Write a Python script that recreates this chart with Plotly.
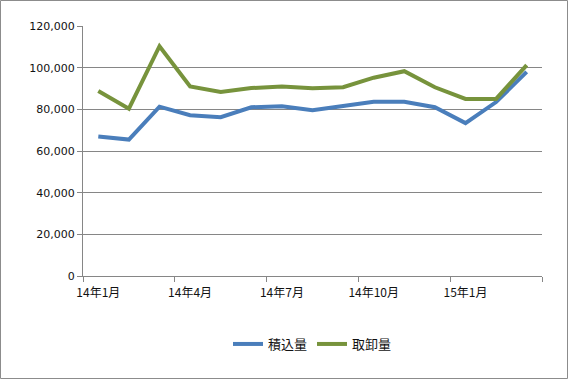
import plotly.graph_objects as go

months = ["14年1月", "14年2月", "14年3月", "14年4月", "14年5月", "14年6月", "14年7月",
          "14年8月", "14年9月", "14年10月", "14年11月", "14年12月", "15年1月", "15年2月", "15年3月"]
loading = [67000, 65500, 81300, 77200, 76200, 81000, 81500, 79600, 81600, 83600, 83600, 81000, 73400, 83500, 98000]
unloading = [88800, 80300, 110300, 91000, 88300, 90200, 91000, 90100, 90600, 95200, 98300, 90600, 85000, 85000, 101200]
tick_labels = ["14年1月", "14年4月", "14年7月", "14年10月", "15年1月"]

xs = list(range(len(months)))
tick_pos = [months.index(t) for t in tick_labels]
boundaries = [p - 0.5 for p in tick_pos] + [len(months) - 0.5]

W, H = 568, 379
L, R, T, B = 83, 26, 26, 103
pw, ph = W - L - R, H - T - B

fig = go.Figure()
fig.add_trace(go.Scatter(x=xs, y=loading, mode="lines", name="積込量",
                         line=dict(color="#4A7EBB", width=4)))
fig.add_trace(go.Scatter(x=xs, y=unloading, mode="lines", name="取卸量",
                         line=dict(color="#77933C", width=4)))
# helper trace so that the boundary-tick axis is drawn
fig.add_trace(go.Scatter(x=[boundaries[0]], y=[None], xaxis="x2", mode="lines",
                         showlegend=False, hoverinfo="skip"))

xr = [-0.5, len(months) - 0.5]
fig.update_layout(
    width=W, height=H,
    margin=dict(l=L, r=R, t=T, b=B, pad=0),
    paper_bgcolor="white", plot_bgcolor="white",
    font=dict(family="DejaVu Sans, Noto Sans CJK JP", size=11, color="#111111"),
    showlegend=True,
    legend=dict(orientation="h", x=0.5, xanchor="center", y=-0.272, yanchor="middle",
                font=dict(family="Noto Sans CJK JP", size=13, color="#111111"),
                itemwidth=30, tracegroupgap=0),
    xaxis=dict(
        range=xr,
        tickmode="array", tickvals=tick_pos, ticktext=tick_labels,
        ticks="", showgrid=False, zeroline=False,
        showline=True, linecolor="#868686", linewidth=1,
        tickfont=dict(family="Noto Sans CJK JP", size=12, color="#111111"),
        ticklabelstandoff=6,
        fixedrange=True,
    ),
    xaxis2=dict(
        range=xr, overlaying="x", anchor="y", side="bottom",
        tickmode="array", tickvals=boundaries, ticktext=[""] * len(boundaries),
        ticks="outside", ticklen=5, tickcolor="#868686", tickwidth=1,
        showgrid=False, zeroline=False, showline=False, fixedrange=True,
    ),
    yaxis=dict(
        range=[0, 120000], tickmode="linear", tick0=0, dtick=20000,
        tickformat=",d", showgrid=True, gridcolor="#868686", gridwidth=1,
        zeroline=False, showline=True, linecolor="#868686", linewidth=1,
        ticks="outside", ticklen=5, tickcolor="#868686",
        fixedrange=True,
    ),
    shapes=[dict(type="rect", xref="paper", yref="paper",
                 x0=(0.5 - L) / pw, x1=(W - 0.5 - L) / pw,
                 y0=(T + ph - (H - 0.5)) / ph, y1=(T + ph - 0.5) / ph,
                 line=dict(color="#8C8C8C", width=1), fillcolor="rgba(0,0,0,0)",
                 layer="below")],
)

fig.write_html("out.html", config={"displayModeBar": False, "staticPlot": True},
               post_script="document.body.style.margin='0';document.body.style.overflow='hidden';")
